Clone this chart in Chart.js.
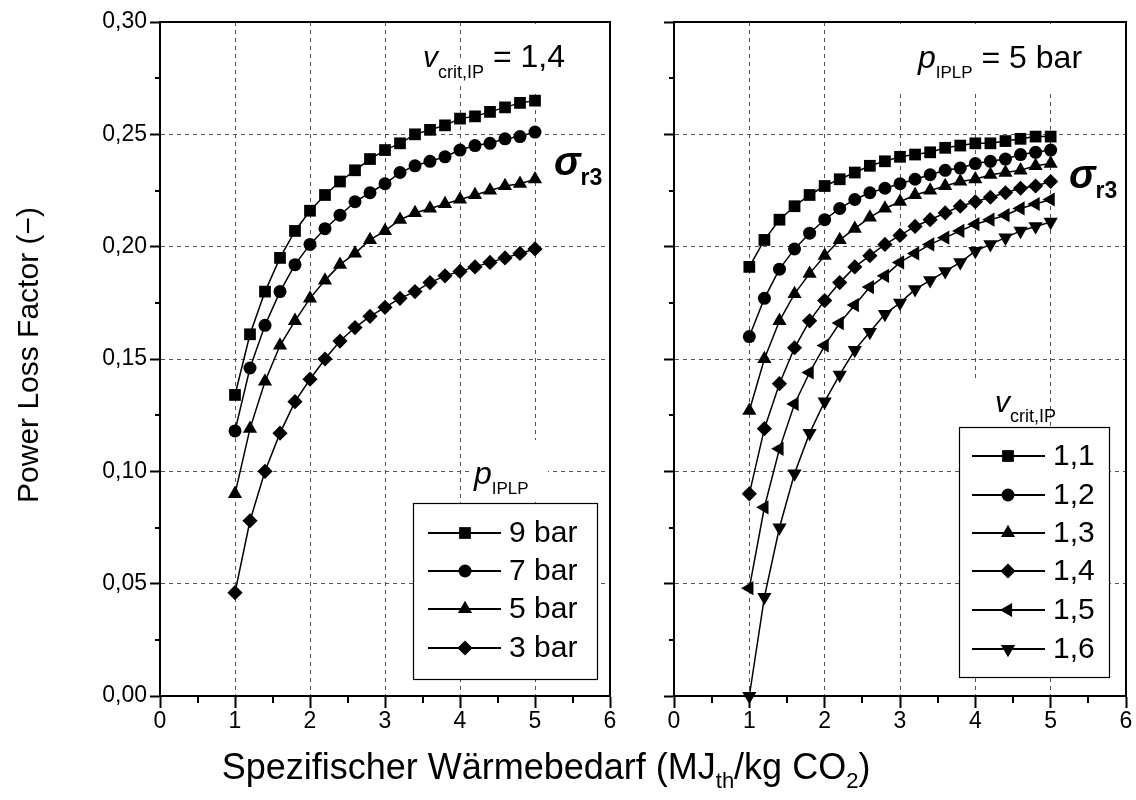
<!DOCTYPE html>
<html>
<head>
<meta charset="utf-8">
<script src="https://cdn.jsdelivr.net/npm/chart.js@4.4.0/dist/chart.umd.min.js"></script>
<style>
  html, body { margin: 0; padding: 0; background: #fff; }
  #wrap { position: relative; width: 1136px; height: 800px; }
  #wrap canvas { position: absolute; left: 0; top: 0; }
</style>
</head>
<body>
<div id="wrap">
  <canvas id="leftPanel" width="1136" height="800"></canvas>
  <canvas id="rightPanel" width="1136" height="800"></canvas>
</div>
<script>
// Specific heat demand (MJ_th / kg CO2) at which each curve is evaluated
const XS = [1.0, 1.2, 1.4, 1.6, 1.8, 2.0, 2.2, 2.4, 2.6, 2.8, 3.0,
            3.2, 3.4, 3.6, 3.8, 4.0, 4.2, 4.4, 4.6, 4.8, 5.0];

// Left panel: v_crit,IP = 1,4, one curve per IP/LP crossover pressure
const P_9BAR = [0.134, 0.161, 0.180, 0.195, 0.207, 0.216, 0.223, 0.229, 0.234, 0.239, 0.243,
                0.246, 0.250, 0.252, 0.254, 0.257, 0.258, 0.260, 0.262, 0.264, 0.265];
const P_7BAR = [0.118, 0.146, 0.165, 0.180, 0.192, 0.201, 0.208, 0.214, 0.220, 0.224, 0.228,
                0.233, 0.236, 0.238, 0.240, 0.243, 0.245, 0.246, 0.248, 0.249, 0.251];
const P_5BAR = [0.090, 0.119, 0.140, 0.156, 0.167, 0.177, 0.185, 0.192, 0.197, 0.203, 0.207,
                0.212, 0.215, 0.217, 0.219, 0.221, 0.223, 0.225, 0.227, 0.228, 0.230];
const P_3BAR = [0.046, 0.078, 0.100, 0.117, 0.131, 0.141, 0.150, 0.158, 0.164, 0.169, 0.173,
                0.177, 0.180, 0.184, 0.187, 0.189, 0.191, 0.193, 0.195, 0.197, 0.199];
const PRESSURE_LABELS = ['9 bar', '7 bar', '5 bar', '3 bar'];

// Right panel: p_IPLP = 5 bar, one curve per critical velocity ratio
const V_11 = [0.191, 0.203, 0.212, 0.218, 0.223, 0.227, 0.230, 0.233, 0.236, 0.238, 0.240,
              0.241, 0.242, 0.244, 0.245, 0.246, 0.246, 0.247, 0.248, 0.249, 0.249];
const V_12 = [0.160, 0.177, 0.190, 0.199, 0.206, 0.212, 0.217, 0.221, 0.224, 0.226, 0.228,
              0.230, 0.232, 0.234, 0.235, 0.237, 0.238, 0.239, 0.241, 0.242, 0.243];
const V_13 = [0.127, 0.150, 0.167, 0.179, 0.188, 0.196, 0.203, 0.208, 0.213, 0.217, 0.220,
              0.223, 0.225, 0.227, 0.229, 0.230, 0.232, 0.233, 0.234, 0.236, 0.237];
const V_14 = [0.090, 0.119, 0.139, 0.155, 0.167, 0.176, 0.184, 0.191, 0.196, 0.201, 0.205,
              0.209, 0.212, 0.215, 0.218, 0.220, 0.222, 0.224, 0.226, 0.227, 0.229];
const V_15 = [0.048, 0.084, 0.110, 0.130, 0.144, 0.156, 0.166, 0.174, 0.182, 0.187, 0.193,
              0.197, 0.201, 0.204, 0.207, 0.210, 0.212, 0.214, 0.217, 0.219, 0.221];
const V_16 = [0.000, 0.044, 0.075, 0.099, 0.117, 0.131, 0.143, 0.154, 0.162, 0.170, 0.175,
              0.181, 0.185, 0.189, 0.193, 0.198, 0.201, 0.204, 0.207, 0.209, 0.211];
const VCRIT_LABELS = ['1,1', '1,2', '1,3', '1,4', '1,5', '1,6'];

// Axis ticks
const X_TICKS = [0, 1, 2, 3, 4, 5, 6];
const X_MINOR = [0.5, 1.5, 2.5, 3.5, 4.5, 5.5];
const Y_TICKS = [0, 0.05, 0.10, 0.15, 0.20, 0.25, 0.30];
const Y_MINOR = [0.025, 0.075, 0.125, 0.175, 0.225, 0.275];

const FONT = '"Liberation Sans", Arial, Helvetica, sans-serif';

// Marker shapes, in series order
const SQUARE  = { style: 'rect',     rotation: 0,   radius: 8.3 };
const CIRCLE  = { style: 'circle',   rotation: 0,   radius: 6.5 };
const TRI_UP  = { style: 'triangle', rotation: 0,   radius: 8.2 };
const DIAMOND = { style: 'rectRot',  rotation: 0,   radius: 7.6 };
const TRI_LT  = { style: 'triangle', rotation: -90, radius: 8.2 };
const TRI_DN  = { style: 'triangle', rotation: 180, radius: 8.2 };

function series(label, values, mk) {
  return {
    label,
    data: XS.map((x, i) => ({ x, y: values[i] })),
    borderColor: '#000',
    borderWidth: 1.5,
    backgroundColor: '#000',
    pointStyle: mk.style,
    pointRotation: mk.rotation,
    pointRadius: mk.radius,
    pointBorderWidth: 0,
    pointBackgroundColor: '#000',
    tension: 0,
    fill: false,
    clip: false
  };
}

// Text made of runs with their own font and baseline shift
function runsWidth(ctx, runs) {
  let w = 0;
  for (const r of runs) { ctx.font = r.font; w += ctx.measureText(r.t).width; }
  return w;
}
function drawRuns(ctx, x, y, runs) {
  let cx = x;
  ctx.textBaseline = 'alphabetic';
  ctx.textAlign = 'left';
  for (const r of runs) {
    ctx.font = r.font;
    ctx.fillText(r.t, cx, y + (r.dy || 0));
    cx += ctx.measureText(r.t).width;
  }
}

function whiteBoxes(ctx, boxes) {
  ctx.fillStyle = '#fff';
  for (const b of boxes) ctx.fillRect(b[0], b[1], b[2], b[3]);
}

function drawLegend(ctx, L, labels, markers) {
  ctx.save();
  ctx.fillStyle = '#fff';
  ctx.fillRect(L.x, L.y, L.w, L.h);
  ctx.strokeStyle = '#000';
  ctx.lineWidth = 1.2;
  ctx.strokeRect(L.x + 0.5, L.y + 0.5, L.w, L.h);
  labels.forEach((text, i) => {
    const y = L.rows[i];
    const mk = markers[i];
    ctx.strokeStyle = '#000';
    ctx.lineWidth = 2;
    ctx.beginPath();
    ctx.moveTo(L.x1, y);
    ctx.lineTo(L.x2, y);
    ctx.stroke();
    ctx.fillStyle = '#000';
    Chart.helpers.drawPoint(ctx, { pointStyle: mk.style, rotation: mk.rotation, radius: mk.radius, borderWidth: 0 }, L.mx, y);
    ctx.font = '30px ' + FONT;
    ctx.textBaseline = 'middle';
    ctx.textAlign = 'left';
    ctx.fillText(text, L.tx, y + 1);
  });
  ctx.restore();
}

// Box frame and minor ticks, drawn beneath the data
const framePlugin = {
  id: 'frame',
  beforeDatasetsDraw(chart) {
    const { ctx, chartArea: a, scales: { x, y } } = chart;
    ctx.save();
    ctx.strokeStyle = '#000';
    ctx.lineWidth = 2;
    ctx.strokeRect(a.left, a.top, a.right - a.left, a.bottom - a.top);
    ctx.beginPath();
    for (const v of X_MINOR) {
      const px = Math.round(x.getPixelForValue(v));
      ctx.moveTo(px, a.bottom);
      ctx.lineTo(px, a.bottom + 7);
    }
    for (const v of Y_MINOR) {
      const py = Math.round(y.getPixelForValue(v));
      ctx.moveTo(a.left, py);
      ctx.lineTo(a.left - 5, py);
    }
    ctx.stroke();
    ctx.restore();
  }
};

function panelOptions(yAxisWidth, rightPad, showYLabels) {
  const tickFont = { family: FONT, size: 23 };
  return {
    responsive: false,
    animation: false,
    devicePixelRatio: 1,
    layout: { padding: { left: 0, right: rightPad, top: 22, bottom: 0 } },
    plugins: { legend: { display: false }, tooltip: { enabled: false } },
    scales: {
      x: {
        type: 'linear', min: 0, max: 6,
        afterBuildTicks: s => { s.ticks = X_TICKS.map(v => ({ value: v })); },
        afterFit: s => { s.height = 104; },
        ticks: { font: tickFont, color: '#000', padding: 0, maxRotation: 0, autoSkip: false,
                 callback: v => String(v) },
        grid: { color: '#555', lineWidth: 1, drawTicks: true, tickLength: 12,
                tickWidth: 2, tickColor: '#000', tickBorderDash: [] },
        border: { display: true, color: '#000', width: 2, dash: [4, 4] }
      },
      y: {
        type: 'linear', min: 0, max: 0.30,
        afterBuildTicks: s => { s.ticks = Y_TICKS.map(v => ({ value: v })); },
        afterFit: s => { s.width = yAxisWidth; },
        ticks: { display: showYLabels, font: tickFont, color: '#000', padding: 3, autoSkip: false,
                 callback: v => v.toFixed(2).replace('.', ',') },
        grid: { color: '#555', lineWidth: 1, drawTicks: true, tickLength: 10,
                tickWidth: 2, tickColor: '#000', tickBorderDash: [] },
        border: { display: true, color: '#000', width: 2, dash: [4, 4] }
      }
    }
  };
}

// ---- left panel ----
const leftMarkers = [SQUARE, CIRCLE, TRI_UP, DIAMOND];
const leftLabels = {
  id: 'leftLabels',
  afterDatasetsDraw(chart) {
    const ctx = chart.ctx;
    ctx.save();
    whiteBoxes(ctx, [[438, 58, 46, 26], [486, 24, 84, 66], [472, 440, 76, 60]]);
    ctx.fillStyle = '#000';
    drawRuns(ctx, 423, 67, [
      { t: 'v', font: 'italic 30px ' + FONT },
      { t: 'crit,IP', font: '18px ' + FONT, dy: 11 },
      { t: ' = 1,4', font: '32px ' + FONT }
    ]);
    drawRuns(ctx, 474, 484, [
      { t: 'p', font: 'italic 32px ' + FONT },
      { t: 'IPLP', font: '17px ' + FONT, dy: 10 }
    ]);
    drawRuns(ctx, 554, 175, [
      { t: 'σ', font: 'italic bold 40px ' + FONT },
      { t: 'r3', font: 'bold 23px ' + FONT, dy: 10 }
    ]);
    drawLegend(ctx, { x: 413, y: 503, w: 184, h: 176, rows: [533, 571, 609, 648],
                      x1: 428, x2: 501, mx: 465, tx: 509 }, PRESSURE_LABELS, leftMarkers);

    // axis titles
    ctx.fillStyle = '#000';
    const xt = [
      { t: 'Spezifischer Wärmebedarf (MJ', font: '36px ' + FONT },
      { t: 'th', font: '22px ' + FONT, dy: 9 },
      { t: '/kg CO', font: '36px ' + FONT },
      { t: '2', font: '22px ' + FONT, dy: 9 },
      { t: ')', font: '36px ' + FONT }
    ];
    drawRuns(ctx, 546 - runsWidth(ctx, xt) / 2, 779, xt);
    ctx.translate(38, 355);
    ctx.rotate(-Math.PI / 2);
    ctx.font = '30px ' + FONT;
    ctx.textAlign = 'center';
    ctx.textBaseline = 'alphabetic';
    ctx.fillText('Power Loss Factor (\u2212)', 0, 0);
    ctx.restore();
  }
};

new Chart(document.getElementById('leftPanel'), {
  type: 'line',
  data: {
    datasets: [
      series(PRESSURE_LABELS[0], P_9BAR, SQUARE),
      series(PRESSURE_LABELS[1], P_7BAR, CIRCLE),
      series(PRESSURE_LABELS[2], P_5BAR, TRI_UP),
      series(PRESSURE_LABELS[3], P_3BAR, DIAMOND)
    ]
  },
  options: panelOptions(160, 526, true),
  plugins: [framePlugin, leftLabels]
});

// ---- right panel ----
const rightMarkers = [SQUARE, CIRCLE, TRI_UP, DIAMOND, TRI_LT, TRI_DN];
const rightLabels = {
  id: 'rightLabels',
  afterDatasetsDraw(chart) {
    const ctx = chart.ctx;
    ctx.save();
    whiteBoxes(ctx, [[890, 24, 210, 68], [968, 381, 72, 45]]);
    ctx.fillStyle = '#000';
    drawRuns(ctx, 918, 68, [
      { t: 'p', font: 'italic 32px ' + FONT },
      { t: 'IPLP', font: '17px ' + FONT, dy: 10 },
      { t: ' = 5 bar', font: '32px ' + FONT }
    ]);
    drawRuns(ctx, 995, 412, [
      { t: 'v', font: 'italic 30px ' + FONT },
      { t: 'crit,IP', font: '18px ' + FONT, dy: 10 }
    ]);
    drawRuns(ctx, 1069, 188, [
      { t: 'σ', font: 'italic bold 40px ' + FONT },
      { t: 'r3', font: 'bold 23px ' + FONT, dy: 10 }
    ]);
    drawLegend(ctx, { x: 959, y: 427, w: 150, h: 250, rows: [456, 495, 533, 571, 610, 649],
                      x1: 972, x2: 1045, mx: 1008, tx: 1053 }, VCRIT_LABELS, rightMarkers);
    ctx.restore();
  }
};

new Chart(document.getElementById('rightPanel'), {
  type: 'line',
  data: {
    datasets: [
      series(VCRIT_LABELS[0], V_11, SQUARE),
      series(VCRIT_LABELS[1], V_12, CIRCLE),
      series(VCRIT_LABELS[2], V_13, TRI_UP),
      series(VCRIT_LABELS[3], V_14, DIAMOND),
      series(VCRIT_LABELS[4], V_15, TRI_LT),
      series(VCRIT_LABELS[5], V_16, TRI_DN)
    ]
  },
  options: panelOptions(674, 10, false),
  plugins: [framePlugin, rightLabels]
});
</script>
</body>
</html>
